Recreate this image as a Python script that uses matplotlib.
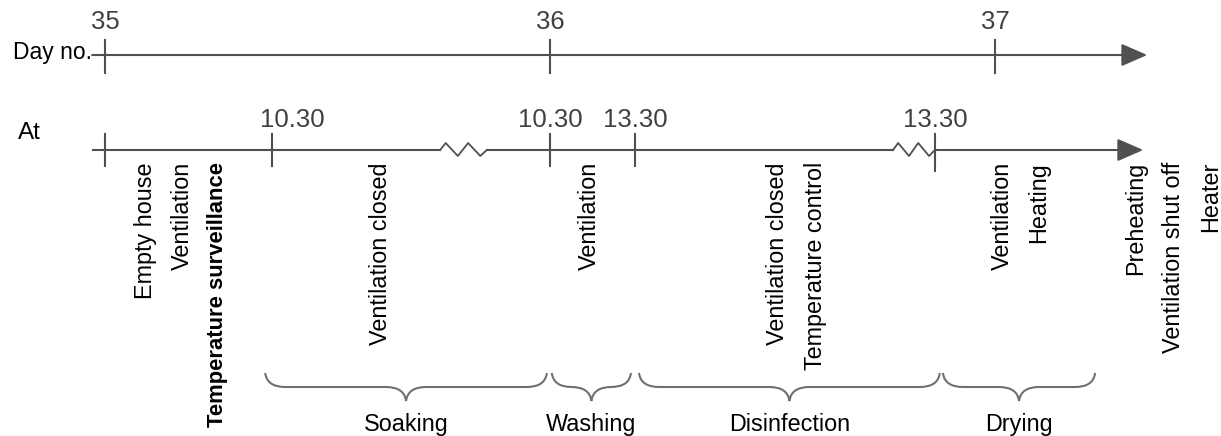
import matplotlib
matplotlib.use("Agg")
import matplotlib.pyplot as plt
from matplotlib.path import Path
from matplotlib.patches import PathPatch

plt.rcParams['font.family'] = ['Liberation Sans', 'DejaVu Sans']

# day axis
days = [35, 36, 37]

# "At" axis: event positions (in days along the drawn timeline) and their clock labels
at_events = [35.0, 35.375, 36.0, 36.191, 36.865]
at_labels = ['', '10.30', '10.30', '13.30', '13.30']
breaks = [(35.753, 35.858), (36.771, 36.865)]

# vertical notes under the "At" axis
notes = [
    (35.090, 'Empty house', 'normal'),
    (35.173, 'Ventilation', 'normal'),
    (35.252, 'Temperature surveillance', 'bold'),
    (35.620, 'Ventilation closed', 'normal'),
    (36.088, 'Ventilation', 'normal'),
    (36.512, 'Ventilation closed', 'normal'),
    (36.596, 'Temperature control', 'normal'),
    (37.016, 'Ventilation', 'normal'),
    (37.097, 'Heating', 'normal'),
    (37.317, 'Preheating', 'normal'),
    (37.402, 'Ventilation shut off', 'normal'),
    (37.485, 'Heater', 'normal'),
]

# phases with their span
phases = ['Soaking', 'Washing', 'Disinfection', 'Drying']
phase_start = [35.360, 36.004, 36.200, 36.883]
phase_end = [35.993, 36.182, 36.876, 37.225]

line_col = '#505050'
brace_col = '#707070'
num_col = '#404040'
arrow = dict(arrowstyle='-|>,head_length=0.8,head_width=0.35',
             mutation_scale=20, color=line_col, lw=1.5, shrinkA=0, shrinkB=0)

fig = plt.figure(figsize=(12.21, 4.36), dpi=100)
ax = fig.add_axes([0, 0, 1, 1])
ax.set_xlim(35 - 105 / 445, 35 + 1116 / 445)
ax.set_ylim(436, 0)
ax.axis('off')

# ---- day line
y_day = 55
ax.annotate('', xy=(37.342, y_day), xytext=(34.971, y_day), arrowprops=arrow)
for d in days:
    ax.plot([d, d], [40, 73], color=line_col, lw=1.5)
    ax.text(d, 22, str(d), ha='center', va='center', fontsize=18.5, color=num_col)
ax.text(34.971, 52, 'Day no.', ha='right', va='center', fontsize=16.5)

# ---- "At" line, with zigzag breaks
y_at = 150
ax.plot([34.973, breaks[0][0]], [y_at, y_at], color=line_col, lw=1.5)
ax.plot([breaks[0][1], breaks[1][0]], [y_at, y_at], color=line_col, lw=1.5)
ax.annotate('', xy=(37.333, y_at), xytext=(breaks[-1][1], y_at), arrowprops=arrow)
for b0, b1 in breaks:
    w = b1 - b0
    zx = [b0, b0 + 0.12 * w, b0 + 0.38 * w, b0 + 0.6 * w, b0 + 0.86 * w, b1]
    zy = [y_at, y_at - 7, y_at + 6, y_at - 7, y_at + 6, y_at]
    ax.plot(zx, zy, color=line_col, lw=1.3)

for x, lab in zip(at_events, at_labels):
    low = 166 if x != at_events[-1] else 171
    ax.plot([x, x], [134, low], color=line_col, lw=1.5)
    if lab:
        off = 0.045 if x == at_events[1] else 0.0
        ax.text(x + off, 120, lab, ha='center', va='center', fontsize=18.5, color=num_col)
ax.text(34.831, 133, 'At', ha='center', va='center', fontsize=17.5)

# ---- vertical notes
for x, txt, wt in notes:
    ax.text(x, 162, txt, rotation=90, ha='center', va='top',
            fontsize=15.8 if wt == 'bold' else 16.8, fontweight=wt)

# ---- curly braces + phase names
y0, ym, y1 = 373, 387, 401
r = 0.045
for name, a, b in zip(phases, phase_start, phase_end):
    xm = (a + b) / 2
    verts = [(a, y0), (a + 0.004, ym), (a + r, ym),
             (xm - r, ym),
             (xm - 0.004, ym), (xm, y1),
             (xm + 0.004, ym), (xm + r, ym),
             (b - r, ym),
             (b - 0.004, ym), (b, y0)]
    codes = [Path.MOVETO, Path.CURVE3, Path.CURVE3,
             Path.LINETO,
             Path.CURVE3, Path.CURVE3,
             Path.CURVE3, Path.CURVE3,
             Path.LINETO,
             Path.CURVE3, Path.CURVE3]
    ax.add_patch(PathPatch(Path(verts, codes), facecolor='none',
                           edgecolor=brace_col, lw=1.5))
    ax.text(xm, 424, name, ha='center', va='center', fontsize=16.8)

fig.savefig('out.png', dpi=100)
